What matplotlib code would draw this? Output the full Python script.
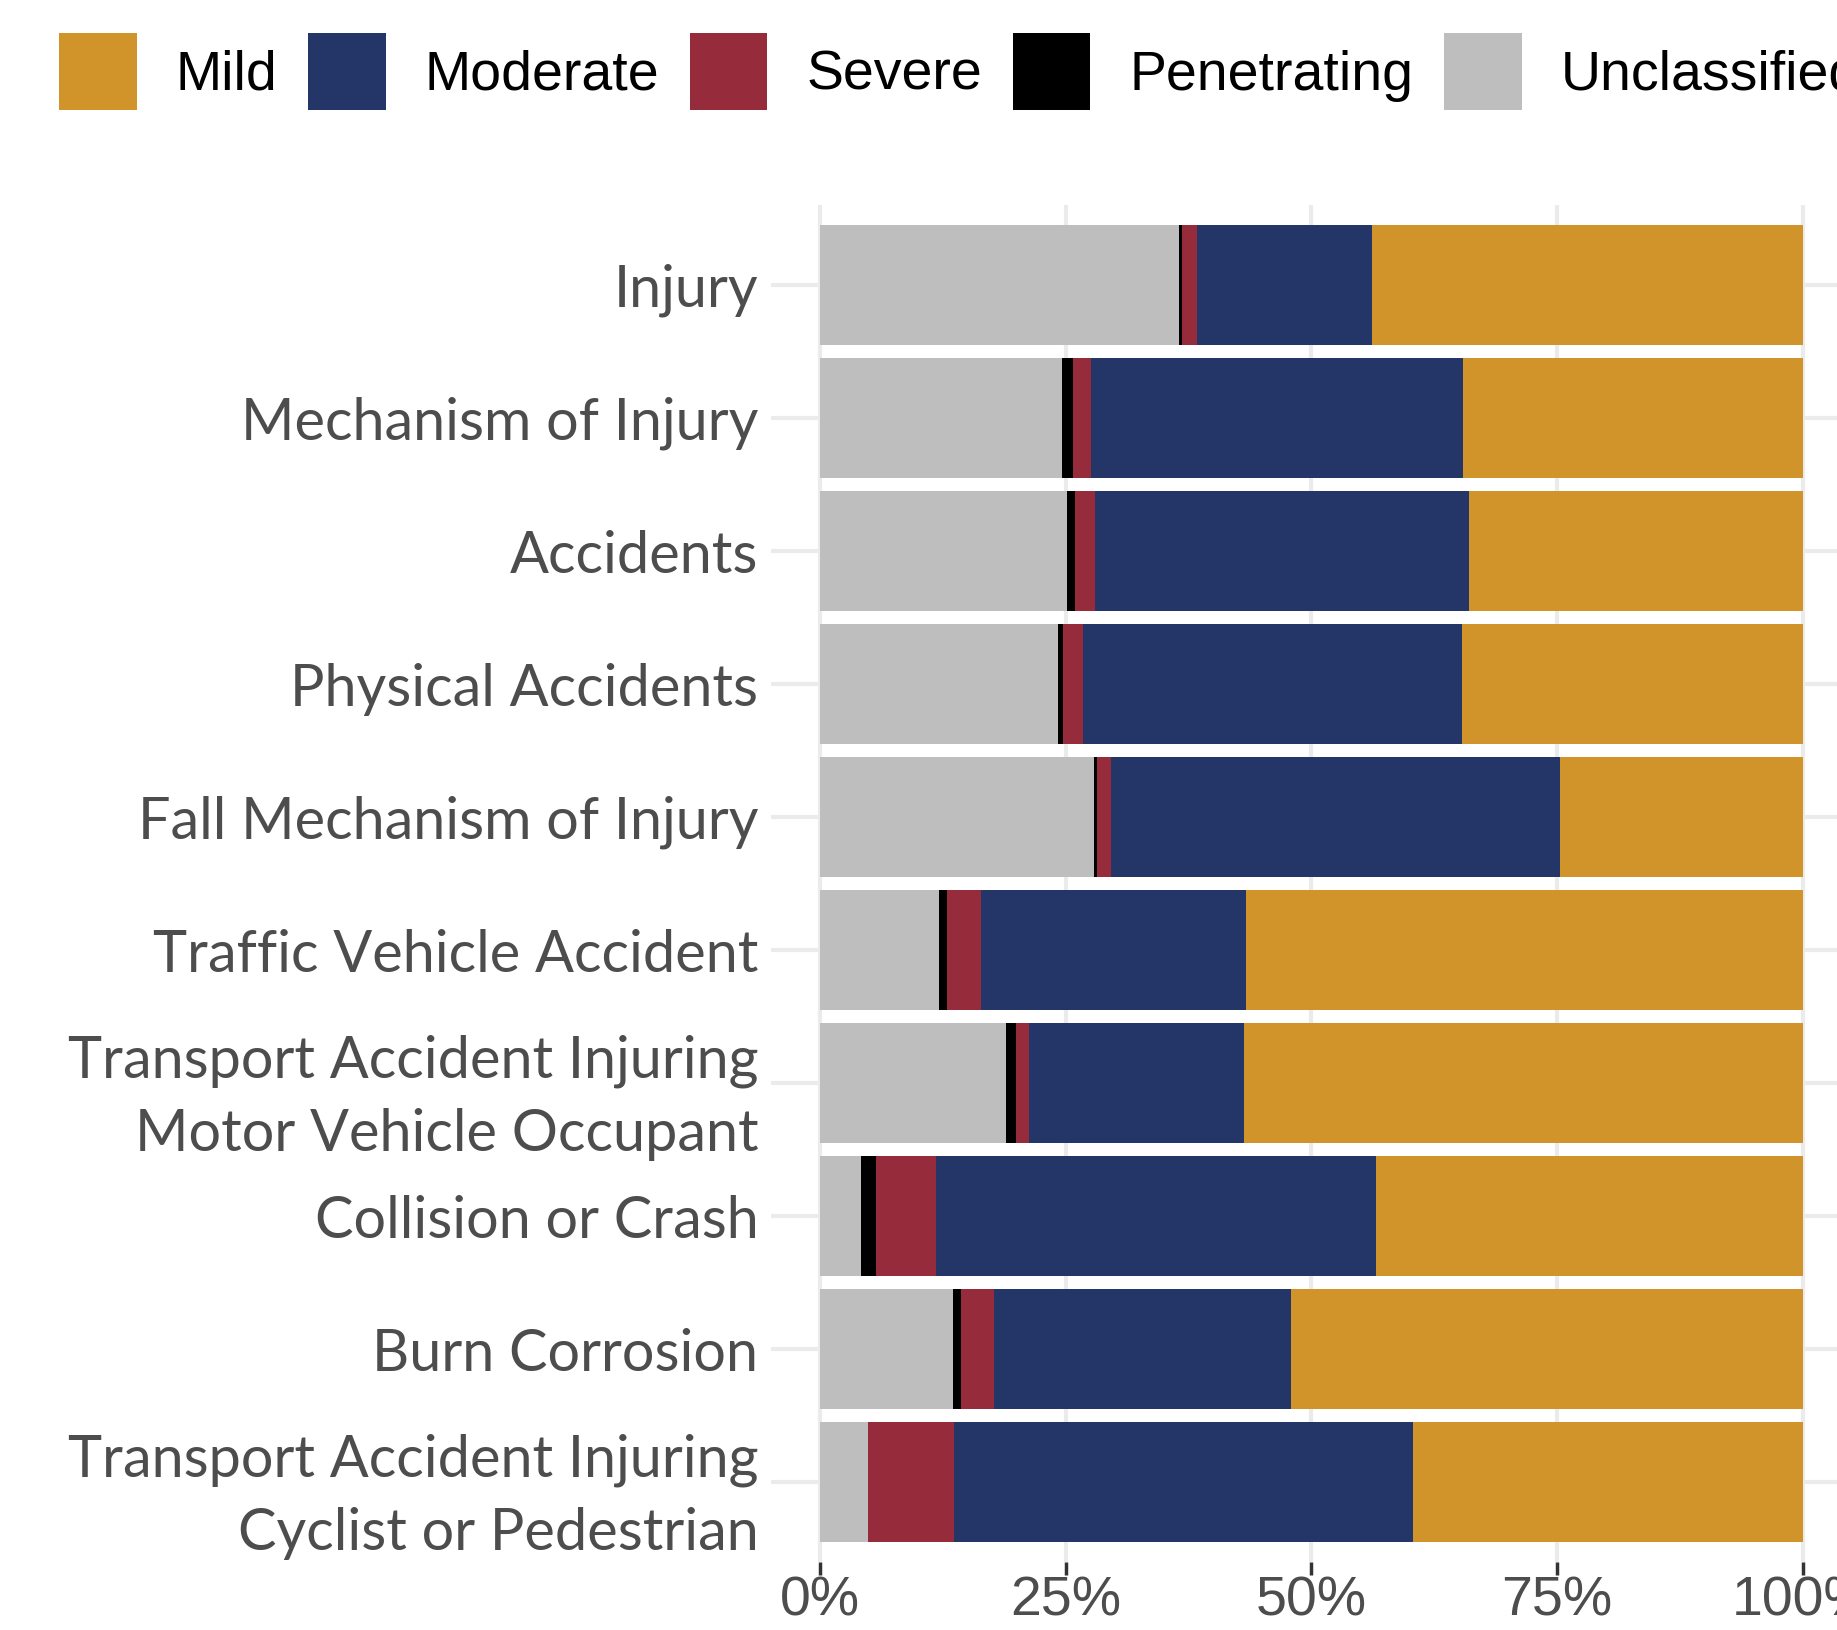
import numpy as np
import matplotlib.pyplot as plt
from matplotlib.patches import Patch
from matplotlib import font_manager

# categories, top to bottom
categories = [
    "Injury",
    "Mechanism of Injury",
    "Accidents",
    "Physical Accidents",
    "Fall Mechanism of Injury",
    "Traffic Vehicle Accident",
    "Transport Accident Injuring\nMotor Vehicle Occupant",
    "Collision or Crash",
    "Burn Corrosion",
    "Transport Accident Injuring\nCyclist or Pedestrian",
]

# shares in percent
unclassified = [36.5, 24.6, 25.1, 24.2, 27.9, 12.1, 18.9, 4.2, 13.5, 4.9]
penetrating  = [0.3, 1.1, 0.8, 0.5, 0.3, 0.8, 1.0, 1.5, 0.8, 0.0]
severe       = [1.6, 1.9, 2.1, 2.1, 1.4, 3.5, 1.4, 6.1, 3.4, 8.7]
moderate     = [17.8, 37.8, 38.0, 38.5, 45.7, 26.9, 21.8, 44.8, 30.2, 46.7]
mild         = [43.8, 34.6, 34.0, 34.7, 24.7, 56.7, 56.9, 43.4, 52.1, 39.7]

x_ticks = [0, 0.25, 0.5, 0.75, 1.0]
x_ticklabels = ["0%", "25%", "50%", "75%", "100%"]

legend_labels = ["Mild", "Moderate", "Severe", "Penetrating", "Unclassified"]
colors = {"Mild": "#D1942B", "Moderate": "#243668", "Severe": "#962B3C",
          "Penetrating": "#000000", "Unclassified": "#BEBEBE"}

def pick(*names):
    have = {f.name for f in font_manager.fontManager.ttflist}
    return [n for n in names if n in have] + ["DejaVu Sans"]

label_font = pick("Lato", "Open Sans")
tick_font = pick("Liberation Sans Narrow", "Liberation Sans")
legend_font = pick("Liberation Sans")

fig = plt.figure(figsize=(18.37, 16.30), dpi=100)
ax = fig.add_axes([0.4197, 0.0417, 0.5883, 0.8323])

# stacked left to right: Unclassified, Penetrating, Severe, Moderate, Mild
stack = [("Unclassified", unclassified), ("Penetrating", penetrating),
         ("Severe", severe), ("Moderate", moderate), ("Mild", mild)]
y = np.arange(len(categories))
total = np.sum([np.array(v) for _, v in stack], axis=0)
left = np.zeros(len(categories))
for name, vals in stack:
    w = np.array(vals) / total
    ax.barh(y, w, left=left, height=0.9, color=colors[name], linewidth=0, zorder=2)
    left += w

ax.set_xlim(-0.05, 1.05)
ax.set_ylim(len(categories) - 0.4, -0.6)
ax.set_yticks(y)
ax.set_yticklabels(categories, family=label_font, fontsize=41.5, color="#4D4D4D",
                   linespacing=1.45)
ax.set_xticks(x_ticks)
ax.set_xticklabels(x_ticklabels, family=tick_font, fontsize=40, color="#4D4D4D")
ax.tick_params(axis="y", length=0, pad=9)
ax.tick_params(axis="x", length=9, width=2.5, color="#333333", pad=1)

ax.grid(True, color="#EBEBEB", linewidth=3, zorder=0)
ax.set_axisbelow(True)
for s in ax.spines.values():
    s.set_visible(False)

handles = [Patch(facecolor=colors[l], edgecolor="none", label=l) for l in legend_labels]
fig.legend(handles=handles, loc="center left", bbox_to_anchor=(0.032, 0.956),
           ncol=5, frameon=False, prop={"family": legend_font, "size": 40},
           handlelength=1.4, handleheight=1.75, handletextpad=0.7,
           columnspacing=0.55, borderpad=0, borderaxespad=0)

fig.savefig("out.png", dpi=100)
